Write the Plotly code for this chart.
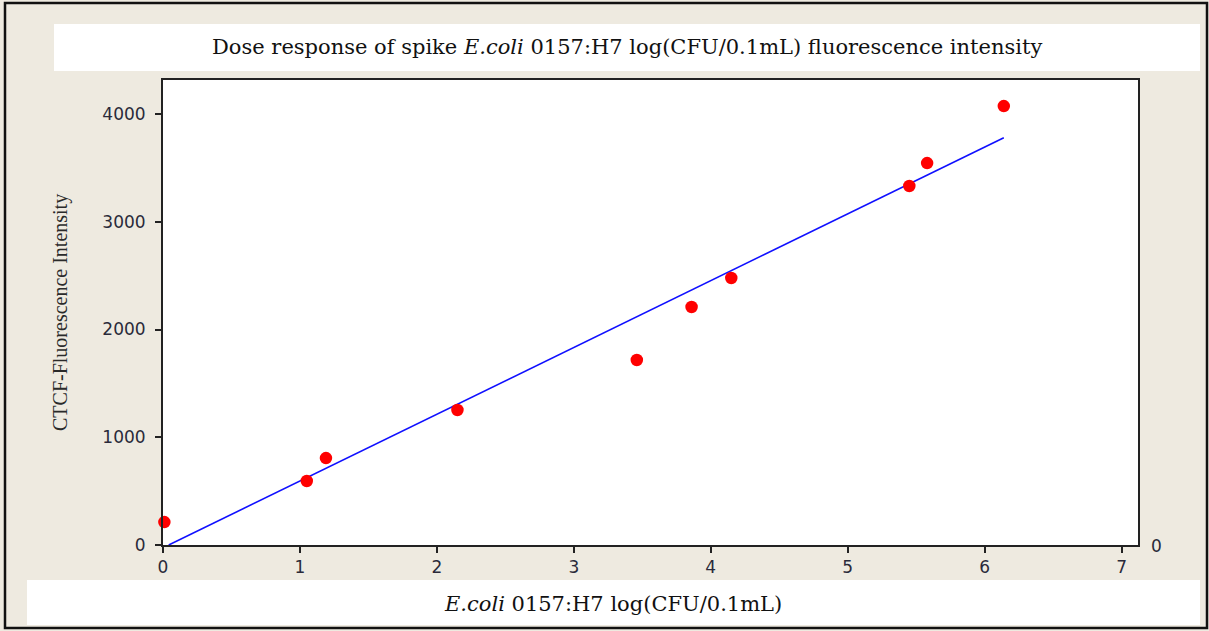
import numpy as np
import plotly.graph_objects as go

# ---- data ----
log_cfu = [0.01, 1.05, 1.19, 2.15, 3.46, 3.86, 4.15, 5.45, 5.58, 6.14]
ctcf = [213, 594, 807, 1253, 1717, 2209, 2478, 3332, 3545, 4074]
x_ticks = [0, 1, 2, 3, 4, 5, 6, 7]
y_ticks = [0, 1000, 2000, 3000, 4000]
y_tick_labels = ["0", "1000", "2000", "3000", "4000"]

title_text = "Dose response of spike <i>E.coli</i> 0157:H7 log(CFU/0.1mL) fluorescence intensity"
x_title = "<i>E.coli</i> 0157:H7 log(CFU/0.1mL)"
y_title = "CTCF-Fluorescence Intensity"

# linear fit
slope, intercept = np.polyfit(log_cfu, ctcf, 1)
fit_x = np.array([-intercept / slope, max(log_cfu)])
fit_y = slope * fit_x + intercept

W, H = 1209, 631
# plot area in window pixels
L, R, T, B = 163, 1138, 80, 545
PW, PH = R - L, B - T


def px(xp):
    return (xp - L) / PW


def py(yp):
    return (B - yp) / PH


BG = "#EEEAE0"
TICK_FONT = dict(family="DejaVu Sans", size=17, color="#2a2a3a")

fig = go.Figure()
fig.add_trace(go.Scatter(x=fit_x, y=fit_y, mode="lines",
                         line=dict(color="#1010FF", width=1.6),
                         showlegend=False, hoverinfo="skip"))
fig.add_trace(go.Scatter(x=log_cfu, y=ctcf, mode="markers",
                         marker=dict(color="#FF0000", size=12.5, symbol="circle"),
                         showlegend=False, cliponaxis=False))

fig.update_layout(
    width=W, height=H,
    margin=dict(l=L, r=W - R, t=T, b=H - B),
    paper_bgcolor=BG, plot_bgcolor="white",
    showlegend=False,
    xaxis=dict(range=[0, 7.12], tickvals=x_ticks, ticks="outside", ticklen=6,
               tickwidth=1.5, tickcolor="#222", showgrid=False, zeroline=False,
               showline=True, linecolor="#222", linewidth=2, mirror=True,
               tickfont=TICK_FONT, ticklabelstandoff=0),
    yaxis=dict(range=[0, 4316], tickvals=y_ticks, ticktext=y_tick_labels,
               ticks="outside", ticklen=6, tickwidth=1.5, tickcolor="#222",
               showgrid=False, zeroline=False,
               showline=True, linecolor="#222", linewidth=2, mirror=True,
               tickfont=TICK_FONT, ticklabelstandoff=6),
    font=dict(family="DejaVu Sans", color="#222"),
)

shapes = [
    # title box
    dict(type="rect", xref="paper", yref="paper", x0=px(54), x1=px(1200),
         y0=py(71), y1=py(24), fillcolor="white", line=dict(width=0), layer="below"),
    # x title box
    dict(type="rect", xref="paper", yref="paper", x0=px(27), x1=px(1200),
         y0=py(625), y1=py(580), fillcolor="white", line=dict(width=0), layer="below"),
    # outer border
    dict(type="rect", xref="paper", yref="paper", x0=px(5), x1=px(1207),
         y0=py(628), y1=py(3), line=dict(color="#111", width=2.5)),
]
fig.update_layout(shapes=shapes)

annotations = [
    dict(text=title_text, xref="paper", yref="paper", x=px(627), y=py(47),
         showarrow=False, xanchor="center", yanchor="middle",
         font=dict(family="DejaVu Serif", size=21, color="#111")),
    dict(text=x_title, xref="paper", yref="paper", x=px(613), y=py(604),
         showarrow=False, xanchor="center", yanchor="middle",
         font=dict(family="DejaVu Serif", size=21, color="#111")),
    dict(text=y_title, xref="paper", yref="paper", x=px(60), y=py(313),
         showarrow=False, xanchor="center", yanchor="middle", textangle=-90,
         font=dict(family="Liberation Serif", size=20, color="#2a2a2a")),
    dict(text="0", xref="paper", yref="paper", x=px(1156), y=py(546),
         showarrow=False, xanchor="center", yanchor="middle",
         font=TICK_FONT),
]
fig.update_layout(annotations=annotations)

fig.write_html("out.html",
               config={"displayModeBar": False},
               post_script="document.body.style.margin='0';document.body.style.overflow='hidden';")
